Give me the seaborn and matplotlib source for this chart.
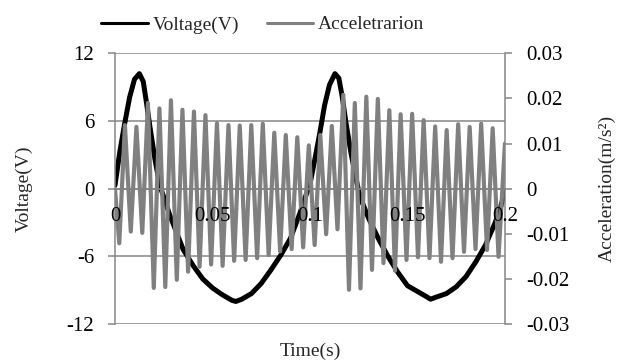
import pandas as pd
import matplotlib
matplotlib.use('Agg')
import matplotlib.pyplot as plt
from matplotlib.lines import Line2D
from matplotlib.ticker import FuncFormatter
import seaborn as sns

# Voltage (left axis), two cycles of a distorted wave
volt_t = [0, 0.0025, 0.005, 0.0075, 0.010, 0.0125, 0.0145, 0.016, 0.018, 0.0205,
          0.023, 0.028, 0.035, 0.040, 0.045, 0.050, 0.055, 0.060, 0.062, 0.065,
          0.070, 0.075, 0.080, 0.085, 0.090, 0.095, 0.0975,
          0.100, 0.1025, 0.105, 0.1075, 0.110, 0.1128, 0.1148, 0.1165, 0.1185, 0.121,
          0.1235, 0.1256, 0.130, 0.135, 0.140, 0.145, 0.150, 0.155, 0.160, 0.1618,
          0.165, 0.170, 0.175, 0.180, 0.185, 0.190, 0.195, 0.1975, 0.200]
volt_v = [0.3, 3.3, 5.8, 8.1, 9.7, 10.2, 9.5, 7.8, 5.4, 2.6,
          0.3, -2.3, -5.4, -6.8, -8.0, -8.8, -9.4, -9.9, -10.0, -9.8,
          -9.3, -8.4, -7.2, -5.9, -4.4, -2.1, -0.8,
          0.4, 2.6, 4.9, 7.4, 9.2, 10.2, 9.8, 8.2, 5.8, 3.2,
          1.0, -0.7, -2.6, -4.4, -6.0, -7.4, -8.6, -9.1, -9.6, -9.8,
          -9.6, -9.3, -8.7, -7.8, -6.5, -5.0, -3.0, -1.8, -0.2]

acc_peak_t = [0.0051, 0.0110, 0.0169, 0.0228, 0.0287, 0.0346, 0.0405, 0.0464, 0.0523,
              0.0582, 0.0640, 0.0699, 0.0758, 0.0817, 0.0876, 0.0935, 0.0994, 0.1053,
              0.1112, 0.1171, 0.1230, 0.1289, 0.1348, 0.1407, 0.1465, 0.1524, 0.1583,
              0.1642, 0.1701, 0.1760, 0.1819, 0.1878, 0.1937]
acc_peak_v = [0.0141, 0.0137, 0.0190, 0.0178, 0.0196, 0.0175, 0.0171, 0.0163, 0.0145,
              0.0141, 0.0140, 0.0141, 0.0144, 0.0124, 0.0119, 0.0114, 0.0096, 0.0119,
              0.0139, 0.0208, 0.0190, 0.0204, 0.0199, 0.0174, 0.0165, 0.0166, 0.0152,
              0.0138, 0.0130, 0.0143, 0.0137, 0.0144, 0.0134]
acc_trough_t = [0.0022, 0.0081, 0.0140, 0.0199, 0.0258, 0.0317, 0.0375, 0.0434, 0.0493,
                0.0552, 0.0611, 0.0670, 0.0729, 0.0788, 0.0847, 0.0906, 0.0965, 0.1024,
                0.1083, 0.1141, 0.1200, 0.1259, 0.1318, 0.1377, 0.1436, 0.1495, 0.1554,
                0.1613, 0.1672, 0.1731, 0.1790, 0.1849, 0.1908, 0.1967]
acc_trough_v = [-0.0121, -0.0095, -0.0098, -0.0220, -0.0218, -0.0202, -0.0184, -0.0173, -0.0168,
                -0.0171, -0.0160, -0.0158, -0.0154, -0.0147, -0.0139, -0.0134, -0.0130, -0.0125,
                -0.0101, -0.0090, -0.0224, -0.0221, -0.0180, -0.0165, -0.0182, -0.0158, -0.0152,
                -0.0154, -0.0162, -0.0154, -0.0140, -0.0134, -0.0136, -0.0151]
acc_ends_t = [0.0, 0.2]
acc_ends_v = [0.0, 0.010]

volt_ticks = [-12, -6, 0, 6, 12]
acc_ticks = [-0.03, -0.02, -0.01, 0, 0.01, 0.02, 0.03]
time_ticks = [0, 0.05, 0.1, 0.15, 0.2]

volt_df = pd.DataFrame({'t': volt_t, 'v': volt_v})
acc_df = pd.concat([
    pd.DataFrame({'t': acc_peak_t, 'a': acc_peak_v}),
    pd.DataFrame({'t': acc_trough_t, 'a': acc_trough_v}),
    pd.DataFrame({'t': acc_ends_t, 'a': acc_ends_v}),
]).sort_values('t')

sns.set_theme(style='white')
plt.rcParams['font.family'] = ['Liberation Serif', 'DejaVu Serif']
plt.rcParams['axes.unicode_minus'] = False
plt.rcParams['font.size'] = 14

grey = '#868686'
line_grey = '#808080'

fig = plt.figure(figsize=(6.29, 3.63), dpi=100)
ax = fig.add_axes([0.1828, 0.1074, 0.62, 0.7456])

sns.lineplot(data=volt_df, x='t', y='v', ax=ax, color='black', lw=3.6,
             solid_joinstyle='round')
ax.set_xlim(0, 0.2)
ax.set_ylim(-12, 12)
ax.set_yticks(volt_ticks)
ax.set_xticks(time_ticks)
ax.xaxis.set_major_formatter(FuncFormatter(lambda v, p: '%g' % v))
ax.yaxis.grid(True, color=grey, lw=1.1)
ax.xaxis.grid(False)
ax.set_axisbelow(True)

ax.spines['top'].set_visible(False)
ax.spines['bottom'].set_position(('data', 0))
ax.spines['bottom'].set_color(grey)
ax.spines['left'].set_color(grey)
ax.spines['left'].set_linewidth(1.1)
ax.spines['right'].set_visible(False)
ax.tick_params(axis='x', length=0, labelbottom=False)
ax.tick_params(axis='y', left=True, length=5, width=1.1, color=grey, pad=10,
               labelsize=15, labelcolor='black')

ax2 = ax.twinx()
sns.lineplot(data=acc_df, x='t', y='a', ax=ax2, color=line_grey, lw=3.0,
             solid_joinstyle='round', sort=False)
ax2.set_ylim(-0.03, 0.03)
ax2.set_yticks(acc_ticks)
ax2.yaxis.set_major_formatter(FuncFormatter(lambda v, p: '%g' % round(v, 2)))
ax2.grid(False)
ax2.set_axisbelow(False)
for s in ['top', 'bottom', 'left']:
    ax2.spines[s].set_visible(False)
ax2.spines['bottom'].set_position(('data', 0))
ax2.spines['right'].set_color(grey)
ax2.spines['right'].set_linewidth(1.1)
ax2.tick_params(axis='y', right=True, length=5, width=1.1, color=grey, pad=10,
                labelsize=15, labelcolor='black')
# time labels drawn on the top axes so they sit above the grey trace
ax2.xaxis.set_visible(True)
ax2.tick_params(axis='x', bottom=True, labelbottom=True, length=0, pad=13,
                labelsize=15, labelcolor='black')
ax2.set_xlabel('')

ax.set_xlabel('Time(s)', fontsize=14)
ax.xaxis.set_label_coords(0.5, -0.07)
ax.set_ylabel('Voltage(V)', fontsize=14)
ax.yaxis.set_label_coords(-0.21, 0.5)
ax2.set_ylabel('Acceleration(m/s²)', fontsize=14)
ax2.yaxis.set_label_coords(1.24, 0.5)

handles = [Line2D([], [], color='black', lw=2.2),
           Line2D([], [], color=line_grey, lw=2.2)]
fig.legend(handles, ['Voltage(V)', 'Acceletrarion'], loc='center',
           bbox_to_anchor=(0.418, 0.932), ncol=2, frameon=False, fontsize=14,
           handlelength=2.4, handletextpad=0.25, columnspacing=1.4)

fig.savefig('out.png', dpi=100)
